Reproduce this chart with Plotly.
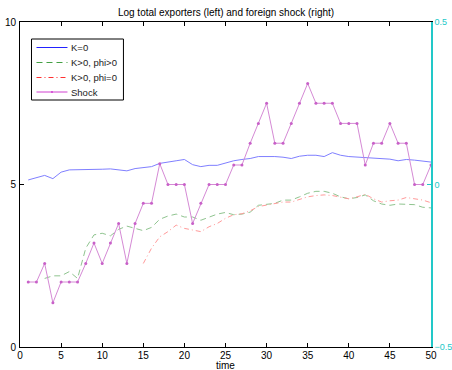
import plotly.graph_objects as go

t = list(range(1, 51))
k0 = [5.14, 5.20, 5.28, 5.18, 5.38, 5.45, 5.45, 5.46, 5.47, 5.47,
      5.48, 5.45, 5.42, 5.49, 5.53, 5.55, 5.65, 5.68, 5.73, 5.77,
      5.61, 5.55, 5.59, 5.59, 5.67, 5.73, 5.77, 5.80, 5.86, 5.87,
      5.86, 5.84, 5.80, 5.87, 5.90, 5.90, 5.86, 5.98, 5.90, 5.86,
      5.84, 5.82, 5.80, 5.80, 5.78, 5.73, 5.77, 5.75, 5.73, 5.69]
t_green = list(range(3, 51))
k_phi_pos = [2.11, 2.19, 2.19, 2.32, 2.11, 3.04, 3.45, 3.50, 3.42, 3.62,
             3.72, 3.65, 3.58, 3.68, 3.93, 4.03, 4.09, 4.00, 4.00, 3.90,
             4.00, 4.09, 4.14, 4.07, 4.09, 4.15, 4.36, 4.40, 4.42, 4.52,
             4.52, 4.62, 4.73, 4.79, 4.79, 4.73, 4.62, 4.56, 4.60, 4.68,
             4.50, 4.40, 4.36, 4.40, 4.38, 4.38, 4.30, 4.28]
t_red = list(range(15, 51))
k_phi_zero = [2.57, 3.04, 3.39, 3.55, 3.75, 3.65, 3.60, 3.55, 3.70, 3.80,
              3.96, 4.07, 4.10, 4.19, 4.32, 4.36, 4.40, 4.46, 4.46, 4.54,
              4.62, 4.66, 4.68, 4.66, 4.62, 4.56, 4.62, 4.70, 4.56, 4.46,
              4.50, 4.52, 4.60, 4.56, 4.52, 4.44]
shock = [-0.30, -0.30, -0.243, -0.364, -0.30, -0.30, -0.30, -0.243, -0.18, -0.243,
         -0.18, -0.12, -0.243, -0.12, -0.058, -0.058, 0.064, 0.0, 0.0, 0.0,
         -0.12, -0.058, 0.0, 0.0, 0.0, 0.06, 0.06, 0.127, 0.188, 0.25,
         0.127, 0.127, 0.188, 0.25, 0.311, 0.25, 0.25, 0.25, 0.188, 0.188,
         0.188, 0.06, 0.127, 0.127, 0.188, 0.127, 0.127, 0.0, 0.0, 0.06]
series_names = ["K=0", "K>0, phi>0", "K>0, phi=0", "Shock"]

FONT = "Liberation Sans, Arial, sans-serif"
W, H = 452, 370
ML, MR, MT, MB = 19.5, 21.3, 22, 23

styles = [
    dict(color="#7f7fff", width=1),
    dict(color="#8fc48f", width=1, dash="6px,4px"),
    dict(color="#ff9a9a", width=1, dash="5px,3px,1px,3px"),
    dict(color="#d58ad5", width=1),
]
leg_colors = ["#2222ff", "#44a044", "#ff3030", "#d040d0"]

fig = go.Figure()
fig.add_trace(go.Scatter(x=t, y=k0, mode="lines", name=series_names[0], line=styles[0]))
fig.add_trace(go.Scatter(x=t_green, y=k_phi_pos, mode="lines", name=series_names[1], line=styles[1]))
fig.add_trace(go.Scatter(x=t_red, y=k_phi_zero, mode="lines", name=series_names[2], line=styles[2]))
fig.add_trace(go.Scatter(x=t, y=shock, mode="lines+markers", name=series_names[3], yaxis="y2",
                         line=styles[3], marker=dict(color="#c860c8", size=3)))

# compact MATLAB-style legend drawn in pixel-based paper coordinates
pw, ph = W - ML - MR, H - MT - MB
def px(x):
    return (x - ML) / pw
def py(y):
    return 1 - (y - MT) / ph

shapes = [dict(type="rect", xref="paper", yref="paper", x0=px(31), x1=px(123),
               y0=py(100), y1=py(39), line=dict(color="black", width=1),
               fillcolor="white", layer="above")]
annotations = []
rows = [47.5, 62.5, 77.5, 92]
for i, (name, yy) in enumerate(zip(series_names, rows)):
    st = dict(styles[i])
    st["color"] = leg_colors[i]
    shapes.append(dict(type="line", xref="paper", yref="paper", x0=px(36), x1=px(67),
                       y0=py(yy), y1=py(yy), line=st, layer="above"))
    annotations.append(dict(text=name, xref="paper", yref="paper", x=px(69), y=py(yy),
                            xanchor="left", yanchor="middle", showarrow=False,
                            font=dict(size=9.5, family=FONT, color="#222")))
shapes.append(dict(type="circle", xref="paper", yref="paper", x0=px(50.5), x1=px(52.5),
                   y0=py(93), y1=py(91), fillcolor="#d040d0", line=dict(width=0),
                   layer="above"))
annotations.append(dict(text="time", xref="paper", yref="paper", x=px(225), y=py(365.5),
                        xanchor="center", yanchor="middle", showarrow=False,
                        font=dict(size=10, family=FONT, color="black")))

fig.update_layout(
    width=W, height=H,
    margin=dict(l=ML, r=MR, t=MT, b=MB, autoexpand=False),
    paper_bgcolor="white", plot_bgcolor="white",
    font=dict(family=FONT, size=10, color="black"),
    title=dict(text="Log total exporters (left) and foreign shock (right)",
               x=0.5, xanchor="center", y=1 - 12.5 / H, yanchor="middle",
               font=dict(size=10, family=FONT), automargin=False),
    showlegend=False,
    shapes=shapes, annotations=annotations,
    xaxis=dict(range=[0, 50], tickvals=list(range(0, 51, 5)), automargin=False,
               showgrid=False, zeroline=False, showline=True, linecolor="black",
               linewidth=1, mirror="ticks", ticks="inside", ticklen=4,
               tickcolor="black", ticklabelstandoff=-1),
    yaxis=dict(range=[0, 10], tickvals=[0, 5, 10], showgrid=False, zeroline=False,
               automargin=False,
               showline=True, linecolor="black", linewidth=1, ticks="inside",
               ticklen=4, tickcolor="black", ticklabelstandoff=1),
    yaxis2=dict(range=[-0.5, 0.5], tickvals=[-0.5, 0, 0.5], overlaying="y",
                side="right", showgrid=False, zeroline=False, showline=True,
                automargin=False,
                linecolor="#22c8c8", linewidth=1.5, ticks="inside", ticklen=4,
                tickcolor="#22c8c8", tickfont=dict(color="#22c8c8", size=9),
                ticklabelstandoff=0),
)
fig.write_html("out.html", config={"displayModeBar": False},
               post_script="document.body.style.margin='0';document.body.style.overflow='hidden';")
